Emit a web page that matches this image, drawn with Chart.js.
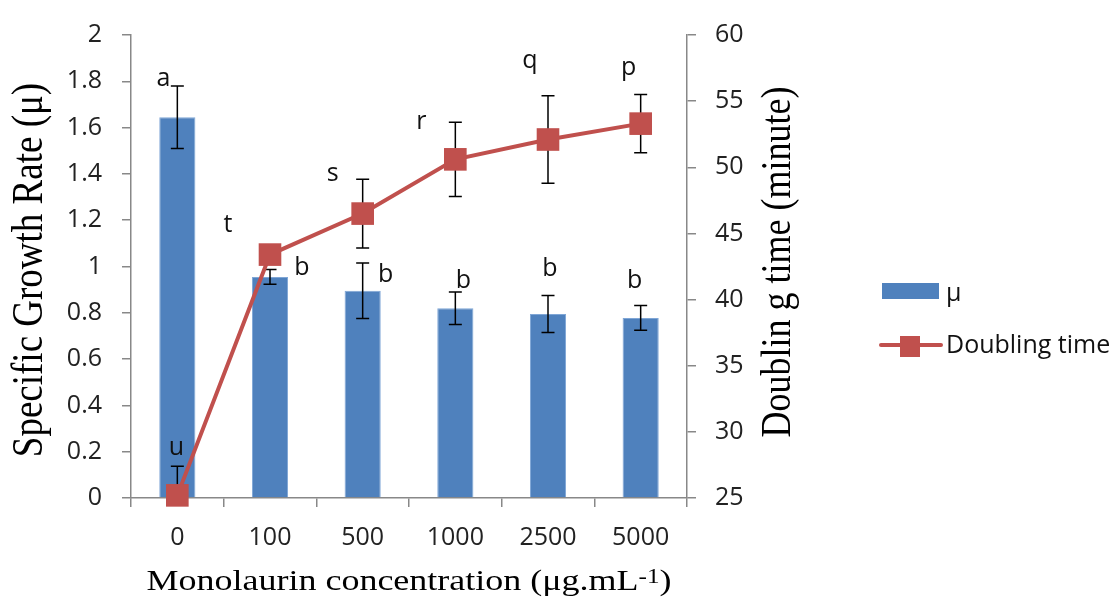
<!DOCTYPE html>
<html>
<head>
<meta charset="utf-8">
<script src="https://cdn.jsdelivr.net/npm/chart.js@4/dist/chart.umd.min.js"></script>
<style>
  body { margin: 0; background: #fff; }
</style>
</head>
<body>
<canvas id="growthChart" width="1116" height="600"></canvas>
<script>
// Data
const concentrations = ['0', '100', '500', '1000', '2500', '5000'];
const muValues = [1.645, 0.955, 0.895, 0.82, 0.795, 0.778];
const muErrors = [0.135, 0.032, 0.12, 0.07, 0.08, 0.053];
const muLetters = ['a', 'b', 'b', 'b', 'b', 'b'];
const doublingValues = [25.2, 43.4, 46.5, 50.6, 52.1, 53.3];
const doublingErrors = [2.2, 0.6, 2.6, 2.8, 3.3, 2.2];
const doublingLetters = ['u', 't', 's', 'r', 'q', 'p'];

// where the letters sit, relative to the top of each error bar (px)
const muLetterShift = [[-14, -7], [32, -2], [23, 12], [8, -11], [2, -27], [-6, -25]];
const doublingLetterShift = [[-1, -18], [-42, -22], [-30, -5], [-34, 0], [-18, -35], [-12, -27]];

const blue = '#4F81BD';
const red = '#C0504D';
const axisGray = '#888888';
const sansFont = "'Open Sans', sans-serif";
const serifFont = "'Liberation Serif', 'Times New Roman', serif";
const stretch = 1.2; // the titles in the original are a bit wide

function drawErrorBars(ctx, meta, values, errors, scale, cap) {
    ctx.save();
    ctx.strokeStyle = '#000';
    ctx.lineWidth = 1.5;
    meta.data.forEach((el, i) => {
        const x = el.x;
        const top = scale.getPixelForValue(values[i] + errors[i]);
        const bottom = scale.getPixelForValue(values[i] - errors[i]);
        ctx.beginPath();
        ctx.moveTo(x, top);
        ctx.lineTo(x, bottom);
        ctx.moveTo(x - cap / 2, top);
        ctx.lineTo(x + cap / 2, top);
        ctx.moveTo(x - cap / 2, bottom);
        ctx.lineTo(x + cap / 2, bottom);
        ctx.stroke();
    });
    ctx.restore();
}

function verticalTitle(ctx, text, x, y) {
    ctx.save();
    ctx.translate(x, y);
    ctx.scale(stretch, 1);
    ctx.rotate(-Math.PI / 2);
    ctx.fillText(text, 0, 0);
    ctx.restore();
}

const extrasPlugin = {
    id: 'extras',
    beforeDatasetDraw(chart, args) {
        if (args.index !== 1) return;
        const { ctx, chartArea } = chart;
        ctx.save();
        ctx.beginPath();
        ctx.rect(chartArea.left, chartArea.top, chartArea.right - chartArea.left, chartArea.bottom - chartArea.top);
        ctx.clip();
        drawErrorBars(ctx, args.meta, doublingValues, doublingErrors, chart.scales.y2, 13);
        ctx.restore();
    },
    afterDatasetDraw(chart, args) {
        if (args.index !== 0) return;
        drawErrorBars(chart.ctx, args.meta, muValues, muErrors, chart.scales.y, 13);
    },
    afterDraw(chart) {
        const { ctx, scales } = chart;
        ctx.save();
        ctx.fillStyle = '#111';
        ctx.textAlign = 'center';
        ctx.textBaseline = 'middle';
        ctx.font = '25px ' + sansFont;

        // significance letters
        const barMeta = chart.getDatasetMeta(0);
        barMeta.data.forEach((el, i) => {
            const top = scales.y.getPixelForValue(muValues[i] + muErrors[i]);
            ctx.fillText(muLetters[i], el.x + muLetterShift[i][0], top + muLetterShift[i][1]);
        });
        const lineMeta = chart.getDatasetMeta(1);
        lineMeta.data.forEach((el, i) => {
            const top = scales.y2.getPixelForValue(doublingValues[i] + doublingErrors[i]);
            ctx.fillText(doublingLetters[i], el.x + doublingLetterShift[i][0], top + doublingLetterShift[i][1]);
        });

        // axis titles
        ctx.fillStyle = '#000';
        ctx.font = '37px ' + serifFont;
        verticalTitle(ctx, 'Specific Growth Rate (\u03bc)', 30, 270);
        ctx.font = '36px ' + serifFont;
        verticalTitle(ctx, 'Doublin g time (minute)', 779, 262);

        // x title with superscript
        const mainText = 'Monolaurin concentration (\u03bcg.mL';
        ctx.textAlign = 'left';
        ctx.textBaseline = 'alphabetic';
        ctx.font = '30px ' + serifFont;
        const w1 = ctx.measureText(mainText).width;
        const w3 = ctx.measureText(')').width;
        ctx.font = '21px ' + serifFont;
        const w2 = ctx.measureText('-1').width;
        ctx.save();
        ctx.translate(409, 590);
        ctx.scale(stretch, 1);
        let x = -(w1 + w2 + w3) / 2;
        ctx.font = '30px ' + serifFont;
        ctx.fillText(mainText, x, 0);
        x += w1;
        ctx.font = '21px ' + serifFont;
        ctx.fillText('-1', x, -7);
        x += w2;
        ctx.font = '30px ' + serifFont;
        ctx.fillText(')', x, 0);
        ctx.restore();

        // legend
        ctx.fillStyle = blue;
        ctx.fillRect(882, 283, 57, 16);
        ctx.strokeStyle = red;
        ctx.lineWidth = 4;
        ctx.lineCap = 'round';
        ctx.beginPath();
        ctx.moveTo(881, 345);
        ctx.lineTo(941, 345);
        ctx.stroke();
        ctx.fillStyle = red;
        ctx.fillRect(900, 336, 20, 21);
        ctx.fillStyle = '#111';
        ctx.textBaseline = 'middle';
        ctx.font = '25px ' + sansFont;
        ctx.fillText('\u03bc', 946, 294);
        ctx.fillText('Doubling time', 946, 346);
        ctx.restore();
    }
};

const ctx = document.getElementById('growthChart').getContext('2d');

const growthChart = new Chart(ctx, {
    type: 'bar',
    data: {
        labels: concentrations,
        datasets: [{
            type: 'bar',
            label: '\u03bc',
            data: muValues,
            backgroundColor: blue,
            borderColor: '#7FA6D6',
            borderWidth: 1,
            categoryPercentage: 1,
            barPercentage: 0.39,
            yAxisID: 'y',
            order: 1
        }, {
            type: 'line',
            label: 'Doubling time',
            data: doublingValues,
            borderColor: red,
            borderWidth: 4,
            backgroundColor: red,
            pointStyle: 'rect',
            pointRadius: 16,
            pointHoverRadius: 16,
            pointBorderWidth: 0,
            tension: 0,
            clip: false,
            yAxisID: 'y2',
            order: 0
        }]
    },
    options: {
        responsive: false,
        animation: false,
        events: [],
        layout: { padding: { top: 29, right: 329, left: 0, bottom: 0 } },
        plugins: {
            legend: { display: false },
            tooltip: { enabled: false }
        },
        scales: {
            x: {
                offset: true,
                grid: { offset: true, drawOnChartArea: false, tickLength: 9, color: axisGray, lineWidth: 1.5 },
                border: { color: axisGray, width: 1.5 },
                ticks: { color: '#222', font: { family: sansFont, size: 25 }, padding: 16 },
                afterFit(scale) { scale.height = 102; }
            },
            y: {
                position: 'left',
                min: 0,
                max: 2,
                grid: { drawOnChartArea: false, tickLength: 9, color: axisGray, lineWidth: 1.5 },
                border: { color: axisGray, width: 1.5 },
                ticks: {
                    stepSize: 0.2,
                    color: '#222',
                    font: { family: sansFont, size: 25 },
                    padding: 20,
                    callback: v => String(+v.toFixed(1))
                },
                afterFit(scale) { scale.width = 131; }
            },
            y2: {
                position: 'right',
                min: 25,
                max: 60,
                grid: { drawOnChartArea: false, tickLength: 9, color: axisGray, lineWidth: 1.5 },
                border: { color: axisGray, width: 1.5 },
                ticks: {
                    stepSize: 5,
                    color: '#222',
                    font: { family: sansFont, size: 25 },
                    padding: 19
                },
                afterFit(scale) { scale.width = 100; }
            }
        }
    },
    plugins: [extrasPlugin]
});
</script>
</body>
</html>
